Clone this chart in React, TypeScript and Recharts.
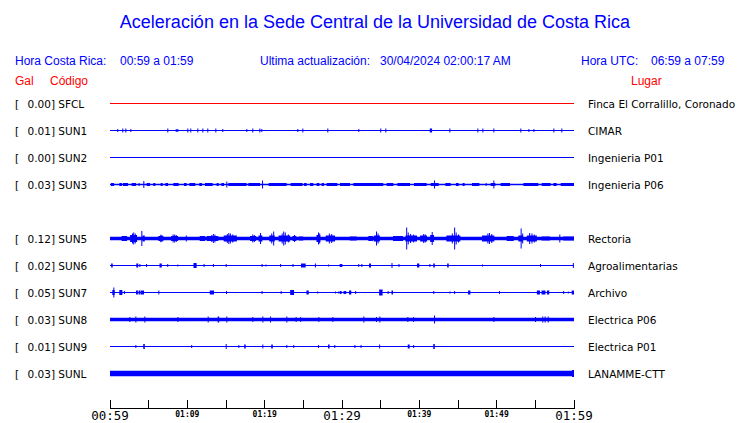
import { ComposedChart, Line, XAxis, YAxis, ReferenceArea } from 'recharts';

type Ev = [number, number, number]; // [minuto, duracion (min), amplitud relativa]

const codes = ['SFCL', 'SUN1', 'SUN2', 'SUN3', 'SUN4', 'SUN5', 'SUN6', 'SUN7', 'SUN8', 'SUN9', 'SUNL'];
const peakGal = [0.0, 0.01, 0.0, 0.03, null, 0.12, 0.02, 0.05, 0.03, 0.01, 0.03];
const places = [
  'Finca El Corralillo, Coronado',
  'CIMAR',
  'Ingenieria P01',
  'Ingenieria P06',
  '',
  'Rectoria',
  'Agroalimentarias',
  'Archivo',
  'Electrica P06',
  'Electrica P01',
  'LANAMME-CTT',
];

const tickMinutes = [0, 5, 10, 15, 20, 25, 30, 35, 40, 45, 50, 55, 60];
const tickLabels = ['00:59', '', '01:09', '', '01:19', '', '01:29', '', '01:39', '', '01:49', '', '01:59'];
const bigLabels = ['00:59', '01:29', '01:59'];

const sfclEvents: Ev[] = [];
const sun1Events: Ev[] = [
  [0.94, 0, 1.5], [1.59, 0, 2], [1.98, 0, 2], [2.63, 0, 1.5], [7.41, 0, 2], [8.5, 0, 1.5], [8.7, 0, 1.5],
  [10.0, 0, 2], [10.38, 0, 2], [11.29, 0, 2], [11.94, 0, 2], [12.58, 0, 2], [13.62, 0, 2], [14.52, 0, 1.5],
  [17.63, 0, 1.5], [18.4, 0, 2], [19.31, 0, 2], [19.56, 0, 1.5], [24.22, 0, 1.5], [24.87, 0, 2], [28.1, 0, 2],
  [32.11, 0, 1.5], [34.95, 0, 2], [35.6, 0, 2], [41.35, 0.3, 2], [43.88, 0, 2], [47.5, 0, 2], [48.15, 0, 2],
  [49.57, 0, 2], [53.06, 0, 2], [54.1, 0, 1.5], [54.75, 0, 1.5], [57.33, 0, 2], [58.36, 0, 2],
];
const sun2Events: Ev[] = [];
const sun3Events: Ev[] = [
  [0.13, 0.39, 1.6], [1.21, 0.34, 1.6], [1.68, 0.65, 1.6], [2.8, 0.56, 1.6], [3.7, 0, 1.5], [4.31, 0, 3.5],
  [4.74, 0.43, 1.6], [5.6, 0.26, 1.6], [6.55, 0.26, 1.6], [7.16, 0.34, 1.6], [8.19, 0.69, 1.6], [9.57, 0.34, 1.6],
  [10.26, 0.77, 1.6], [11.55, 0.35, 1.6], [12.28, 1.0, 1.6], [13.79, 0.26, 1.6], [14.4, 0.34, 1.6], [15.04, 0, 3],
  [15.3, 2.37, 1.6], [17.89, 1.51, 1.6], [19.66, 0, 4], [20.52, 2.32, 1.6], [23.36, 1.55, 1.6], [25.09, 0.34, 1.6],
  [25.86, 0.43, 1.6], [26.72, 0.35, 1.6], [27.37, 0.3, 1.6], [28.02, 1.38, 1.6], [29.74, 1.29, 1.6],
  [31.47, 3.87, 1.6], [35.78, 0.86, 1.6], [37.16, 1.63, 1.6], [39.31, 1.64, 1.6], [41.47, 1.03, 1.6],
  [41.9, 0, 4], [43.36, 0.69, 1.6], [44.74, 0.35, 1.6], [45.6, 0.26, 1.6], [46.81, 0.95, 1.6], [48.58, 0, 1.5],
  [49.22, 0.61, 1.6], [49.57, 0, 4], [50.52, 1.2, 1.6], [53.45, 1.94, 1.6], [55.82, 1.16, 1.6],
  [57.33, 0.43, 1.6], [58.28, 1.72, 1.6],
];
const sun4Events: Ev[] = [];
const sun5Events: Ev[] = [
  [1.5, 0.7, 2.5],
  [2.6, 0.9, 3.5], [2.85, 0, 5], [3.0, 0, 6], [3.2, 0, 5],
  [4.05, 0, 7.5], [4.2, 0.3, 3],
  [6.25, 0.65, 2.5], [6.5, 0, 3.7], [6.65, 0, 3.5],
  [7.9, 0.9, 2.5], [8.1, 0, 4], [8.3, 0, 4], [8.5, 0, 3.5],
  [9.8, 0.1, 3],
  [11.6, 0.7, 2.5],
  [12.5, 1.5, 2.5], [13.1, 0, 3.5], [13.3, 0, 4.5], [13.5, 0, 4],
  [14.7, 1.7, 3], [15.1, 0, 4.5], [15.3, 0, 5.5], [15.5, 0, 5], [15.8, 0, 4],
  [18.1, 0.8, 2.5], [18.4, 0, 4], [18.6, 0, 3.5],
  [19.2, 0.5, 3], [19.4, 0, 5.5],
  [20.6, 0.7, 3], [20.85, 0, 5], [21.1, 0, 7],
  [21.8, 1.5, 3], [22.2, 0, 5], [22.4, 0, 7], [22.6, 0, 6], [23.0, 0, 4],
  [23.6, 0.5, 2.5], [23.8, 0, 3.5],
  [24.4, 0.6, 2],
  [26.7, 0.5, 3.5], [26.9, 0, 6], [27.05, 0, 5],
  [27.9, 1.2, 3], [28.3, 0, 5], [28.6, 0, 4.5],
  [31.0, 0.9, 2],
  [33.4, 0.6, 2.5],
  [34.1, 0.8, 3], [34.4, 0, 7], [34.6, 0, 5],
  [36.6, 1.3, 2.5],
  [38.2, 1.5, 3], [38.3, 0, 11], [38.5, 0, 6], [38.8, 0, 4.5], [39.2, 0, 4],
  [40.1, 0.9, 3], [40.5, 0, 4.5], [40.7, 0, 4],
  [41.4, 0.5, 3.5], [41.6, 0, 6.5],
  [43.5, 1.8, 3], [44.2, 0, 5], [44.5, 0, 11], [44.7, 0, 6], [45.0, 0, 4],
  [48.1, 1.6, 3], [48.8, 0, 5], [49.0, 0, 5.5], [49.3, 0, 4.5],
  [51.3, 0.9, 2.5],
  [52.8, 0.6, 3], [53.1, 0, 10], [53.3, 0, 5],
  [53.9, 1.3, 3], [54.2, 0, 5.5], [54.5, 0, 5], [54.8, 0, 4],
  [55.8, 1.1, 2],
  [58.1, 0, 4],
  [58.6, 1.4, 2],
];
const sun6Events: Ev[] = [
  [0.15, 0.2, 2], [3.4, 0.25, 2], [3.8, 0, 1.5], [4.66, 0, 1.5], [6.4, 0.3, 2], [7.4, 0, 1.5], [8.7, 0, 1],
  [10.8, 0.4, 2.5], [12.1, 0, 1.5], [13.3, 0, 1.5], [14.96, 0, 1.5], [19.6, 0, 1.5], [20.1, 0, 1],
  [22.0, 0, 1.5], [23.6, 0, 1.5], [24.7, 0.6, 2], [26.5, 0, 2], [28.2, 0, 1], [29.7, 0.35, 1.5],
  [32.1, 0, 1.5], [32.5, 0, 1.5], [33.5, 0.25, 2], [36.4, 0, 2.5], [37.3, 0, 1.5], [39.7, 0.3, 2],
  [41.3, 0, 1.5], [41.8, 0.2, 2], [43.6, 0.2, 2], [48.1, 0, 1], [55.6, 0, 1.5], [59.85, 0, 2.5],
];
const sun7Events: Ev[] = [
  [0.3, 0.3, 2.5], [0.43, 0, 5], [1.2, 0.4, 2.5], [1.8, 0, 1.5], [3.36, 0.25, 2], [3.7, 0.2, 2],
  [3.95, 0.45, 2], [6.25, 0, 2], [12.9, 0.55, 2], [15.0, 0, 1.5], [19.6, 0, 1.5], [22.07, 0, 1.5],
  [23.3, 0.5, 2.5], [25.4, 0.3, 2], [26.8, 0, 1], [29.1, 0, 1], [29.5, 0, 1], [29.7, 0.25, 1.5],
  [30.2, 0.35, 1.5], [30.9, 0.3, 2], [31.7, 0, 1.5], [34.8, 0.45, 3], [35.9, 0, 1.5], [36.4, 0.2, 2],
  [41.8, 0, 1.5], [43.9, 0, 1], [44.5, 0, 1.5], [46.3, 0.3, 2], [50.3, 0, 1.5], [55.2, 0.4, 2],
  [55.8, 0.5, 2], [56.5, 0.3, 2], [58.6, 0, 1.5], [59.2, 0, 1], [59.7, 0.3, 2],
];
const sun8Events: Ev[] = [
  [2.5, 0, 2.5], [3.28, 0, 3], [4.44, 0, 3], [8.71, 0, 2.5], [12.63, 0, 3], [13.92, 0.2, 3], [15.04, 0, 3],
  [18.4, 0, 2.5], [19.7, 0, 3], [20.7, 0, 3], [22.8, 0, 3], [24.0, 0, 2.5], [24.6, 0, 2.5], [26.94, 0, 2.5],
  [28.75, 0, 2.5], [32.76, 0, 3], [34.4, 0, 2.5], [34.83, 0, 3], [38.45, 0, 2.5], [39.2, 0, 2.5],
  [41.9, 0, 4], [49.57, 0, 2.5], [54.96, 0, 2.5], [55.9, 0, 3], [56.2, 0, 3], [56.6, 0, 3],
];
const sun9Events: Ev[] = [
  [3.28, 0, 1.5], [4.3, 0.2, 2.5], [10.5, 0, 1.5], [14.96, 0, 2.5], [16.6, 0, 1.5], [17.35, 0.2, 2],
  [19.7, 0, 2], [20.85, 0.2, 2], [22.8, 0, 1.5], [23.7, 0, 1.5], [26.9, 0, 1.5], [28.2, 0.2, 2],
  [29.0, 0, 1.5], [31.6, 0, 1.5], [32.4, 0, 1.5], [34.8, 0, 2], [38.5, 0.25, 2], [39.2, 0, 1.5],
  [41.8, 0.2, 2.5],
];
const sunlEvents: Ev[] = [[59.75, 0.25, 3.5]];

const events = [
  sfclEvents, sun1Events, sun2Events, sun3Events, sun4Events, sun5Events,
  sun6Events, sun7Events, sun8Events, sun9Events, sunlEvents,
];

// estilos por estacion
const traceWidth: Record<string, number> = {
  SFCL: 1, SUN1: 1, SUN2: 1, SUN3: 1.5, SUN5: 3.5, SUN6: 1, SUN7: 1, SUN8: 3.3, SUN9: 1, SUNL: 5.5,
};
const traceColor = (code: string) => (code === 'SFCL' ? '#ff0000' : '#0000ff');

const BLUE = '#0000ff';
const RED = '#ff0000';
const ROW_PX = 27;
const PLOT_TOP = 76.5;
const AXIS_H = 14.5;
const HEIGHT = 423;
const Y_MAX = (HEIGHT - AXIS_H - PLOT_TOP) / ROW_PX;
const SPIKE = 0.13;
const T_END = tickMinutes[tickMinutes.length - 1];

const rowTicks = codes.map((_, i) => i + 1);

function TimeTick(props: any) {
  const { x, y, payload } = props;
  const label = tickLabels[tickMinutes.indexOf(payload.value)];
  const big = bigLabels.includes(label);
  return (
    <g>
      <line x1={x} x2={x} y1={y - 9} y2={y} stroke="#000" shapeRendering="crispEdges" />
      {label ? (
        <text
          x={x}
          y={y + (big ? 11 : 8.5)}
          textAnchor="middle"
          fontFamily="DejaVu Sans Mono"
          fontSize={big ? 12.5 : 8}
          fontWeight={big ? 'normal' : 'bold'}
          fill="#000"
        >
          {label}
        </text>
      ) : null}
    </g>
  );
}

function StationTick(props: any) {
  const { y, payload } = props;
  const i = payload.value - 1;
  if (peakGal[i] == null) return null;
  return (
    <g fontFamily="DejaVu Sans" fontSize={10.5} fill="#000">
      <text x={15} y={y + 4}>[</text>
      <text x={27.5} y={y + 4}>{`${(peakGal[i] as number).toFixed(2)}] ${codes[i]}`}</text>
    </g>
  );
}

function PlaceTick(props: any) {
  const { y, payload } = props;
  const i = payload.value - 1;
  if (!places[i]) return null;
  return (
    <text x={588} y={y + 4} fontFamily="DejaVu Sans" fontSize={10.5} fill="#000">
      {places[i]}
    </text>
  );
}

export default function App() {
  return (
    <div style={{ position: 'absolute', left: 0, top: 0, width: 740, height: HEIGHT, background: '#fff' }}>
      <ComposedChart width={740} height={HEIGHT} margin={{ top: PLOT_TOP, right: 0, bottom: 0, left: 0 }}>
        <XAxis
          type="number"
          dataKey="t"
          domain={[0, T_END]}
          ticks={tickMinutes}
          interval={0}
          height={AXIS_H}
          tickSize={0}
          tickMargin={0}
          tickLine={false}
          axisLine={{ stroke: '#000', shapeRendering: 'crispEdges' }}
          tick={TimeTick}
          allowDataOverflow
        />
        <YAxis
          type="number"
          domain={[0, Y_MAX]}
          reversed
          width={110}
          ticks={rowTicks}
          interval={0}
          axisLine={false}
          tickLine={false}
          tick={StationTick}
          allowDataOverflow
        />
        <YAxis
          yAxisId="right"
          orientation="right"
          type="number"
          domain={[0, Y_MAX]}
          reversed
          width={166}
          ticks={rowTicks}
          interval={0}
          axisLine={false}
          tickLine={false}
          tick={PlaceTick}
          allowDataOverflow
        />
        {codes.map((code, i) =>
          peakGal[i] == null ? null : (
            <Line
              key={code}
              data={[{ t: 0, v: i + 1 }, { t: T_END, v: i + 1 }]}
              dataKey="v"
              stroke={traceColor(code)}
              strokeWidth={traceWidth[code]}
              dot={false}
              activeDot={false}
              isAnimationActive={false}
            />
          )
        )}
        {codes.flatMap((code, i) =>
          events[i].map(([t, dur, amp], k) => (
            <ReferenceArea
              key={`${code}-${k}`}
              x1={t}
              x2={Math.min(T_END, t + Math.max(dur, SPIKE))}
              y1={i + 1 - amp / ROW_PX}
              y2={i + 1 + amp / ROW_PX}
              fill={traceColor(code)}
              fillOpacity={1}
              stroke="none"
              ifOverflow="hidden"
              isFront
            />
          ))
        )}
      </ComposedChart>
      <svg
        width={740}
        height={HEIGHT}
        style={{ position: 'absolute', left: 0, top: 0, pointerEvents: 'none' }}
        fontFamily="Liberation Sans"
      >
        <text x={375} y={28} textAnchor="middle" fontSize={18} fill={BLUE}>
          Aceleración en la Sede Central de la Universidad de Costa Rica
        </text>
        <g fontSize={12} fill={BLUE}>
          <text x={15} y={65}>Hora Costa Rica:</text>
          <text x={120} y={65}>{`${tickLabels[0]} a ${tickLabels[tickLabels.length - 1]}`}</text>
          <text x={260} y={65}>Ultima actualización:</text>
          <text x={380} y={65}>30/04/2024 02:00:17 AM</text>
          <text x={581} y={65}>Hora UTC:</text>
          <text x={651} y={65}>06:59 a 07:59</text>
        </g>
        <g fontSize={12} fill={RED}>
          <text x={15} y={85}>Gal</text>
          <text x={50} y={85}>Código</text>
          <text x={631} y={85}>Lugar</text>
        </g>
      </svg>
    </div>
  );
}
